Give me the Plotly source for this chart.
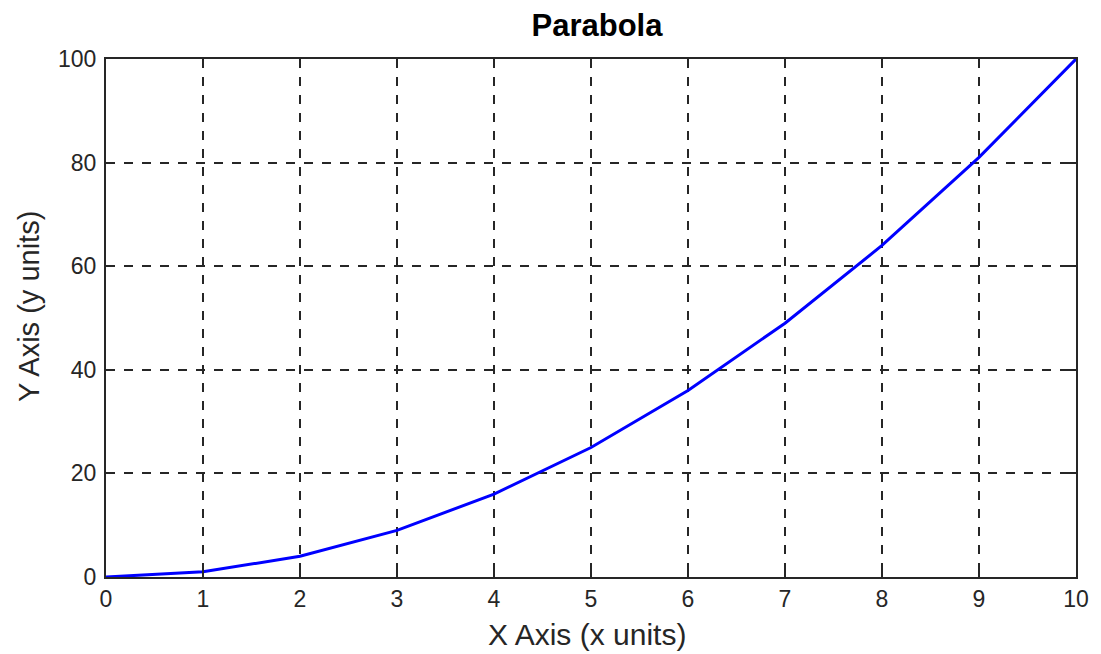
import plotly.graph_objects as go

x_vals = [0, 1, 2, 3, 4, 5, 6, 7, 8, 9, 10]
y_vals = [0, 1, 4, 9, 16, 25, 36, 49, 64, 81, 100]
x_ticks = [0, 1, 2, 3, 4, 5, 6, 7, 8, 9, 10]
y_ticks = [0, 20, 40, 60, 80, 100]

FONT = "Liberation Sans, Arial"
W, H = 1101, 654
L, R, T, B = 106, 13, 59, 77
PW, PH = W - L - R, H - T - B

fig = go.Figure()
fig.add_trace(go.Scatter(x=x_vals, y=y_vals, mode="lines",
                         line=dict(color="#0000ff", width=3), showlegend=False))

axis_common = dict(
    showline=True, linecolor="#262626", linewidth=2, mirror="allticks",
    ticks="inside", ticklen=9, tickwidth=2, tickcolor="#262626",
    showgrid=True, gridcolor="#262626", gridwidth=1.5, griddash="dash",
    zeroline=False,
    tickfont=dict(family=FONT, size=23, color="#262626"),
)

fig.update_layout(
    width=W, height=H,
    margin=dict(l=L, r=R, t=T, b=B),
    paper_bgcolor="white", plot_bgcolor="white",
    title=dict(text="<b>Parabola</b>", x=(L + PW / 2) / W, xanchor="center",
               yref="container", y=1 - 25 / H, yanchor="middle",
               font=dict(family=FONT, size=31, color="black")),
    xaxis=dict(range=[0, 10], tickvals=x_ticks, ticktext=[str(v) for v in x_ticks],
               **axis_common),
    yaxis=dict(range=[0, 100], tickvals=y_ticks, ticktext=[str(v) for v in y_ticks],
               ticklabelstandoff=3, **axis_common),
    annotations=[
        dict(text="X Axis (x units)", xref="paper", yref="paper",
             x=(593 - L) / PW, y=-(634 - (T + PH)) / PH, xanchor="center", yanchor="middle",
             showarrow=False, font=dict(family=FONT, size=30, color="#262626")),
        dict(text="Y Axis (y units)", xref="paper", yref="paper", textangle=-90,
             x=-(L - 28) / PW, y=((T + PH) - 306) / PH, xanchor="center", yanchor="middle",
             showarrow=False, font=dict(family=FONT, size=29, color="#262626")),
    ],
)

post = (
    "document.body.style.margin='0';"
    "document.body.style.overflow='hidden';"
    "document.documentElement.style.overflow='hidden';"
    "var gd=document.getElementById('{plot_id}');"
    "gd.style.overflow='hidden';"
    "gd.querySelectorAll('.svg-container').forEach(function(c){c.style.overflow='hidden';});"
)
fig.write_html("out.html", config={"displayModeBar": False}, post_script=post)
